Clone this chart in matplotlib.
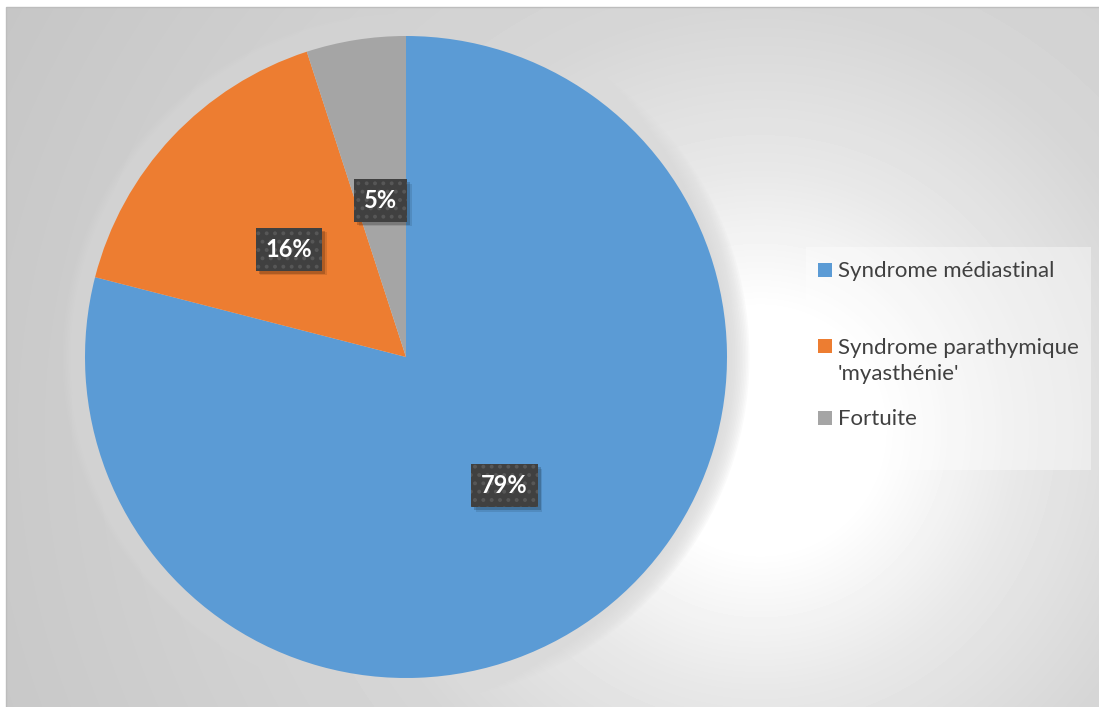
import numpy as np
import matplotlib.pyplot as plt
from matplotlib.patches import Rectangle, Circle
from matplotlib.transforms import IdentityTransform

W, H = 1099, 707

categories = ["Syndrome médiastinal", "Syndrome parathymique\n'myasthénie'", "Fortuite"]
shares = [79, 16, 5]
colors = ["#5B9BD5", "#ED7D31", "#A5A5A5"]

plt.rcParams['font.family'] = ['Lato', 'DejaVu Sans']
plt.rcParams['hatch.linewidth'] = 1.6

fig = plt.figure(figsize=(W / 100, H / 100), dpi=100)

# radial grey background of the chart area
bg = fig.add_axes([6 / W, 0, 1 - 6 / W, 1 - 7 / H])
yy, xx = np.mgrid[7:H, 6:W]
dist = np.hypot(xx - 760, yy - 430)
shade = np.interp(dist, [0, 120, 260, 420, 900], [1.0, 1.0, 0.91, 0.84, 0.77])
bg.imshow(shade, cmap="gray", vmin=0, vmax=1, extent=[6, W, H, 7],
          aspect="auto", interpolation="bilinear")
bg.set_xlim(6, W)
bg.set_ylim(H, 7)
bg.axis("off")
fig.patches.append(Rectangle((6 / W, -0.01), 1, 1 - 7 / H + 0.01,
                             transform=fig.transFigure, fill=False,
                             ec="#bdbdbd", lw=1))

# pie
ax = fig.add_axes([85 / W, (H - 357 - 321) / H, 642 / W, 642 / H])
for k in range(1, 15):
    ax.add_patch(Circle((0, 0), 1 + k * 0.005, fc="#dadada", alpha=0.12,
                        lw=0, zorder=0, clip_on=False))

wedges, texts, autotexts = ax.pie(
    shares, colors=colors, startangle=90, counterclock=False,
    autopct=lambda p: f"{p:.0f}%", pctdistance=0.5,
    wedgeprops=dict(linewidth=0),
)
ax.set_xlim(-1, 1)
ax.set_ylim(-1, 1)
ax.axis("off")

for t in autotexts:
    t.set_color("white")
    t.set_fontsize(17)
    t.set_fontweight("bold")
    t.set_va("center_baseline")
    t.set_zorder(5)
    t.set_bbox(dict(boxstyle="square,pad=0.42", fc="#404040", ec="#575757",
                    lw=0, hatch=".."))

# soft drop shadow behind each label box, placed from the drawn box extents
fig.canvas.draw()
for t in autotexts:
    box = t.get_bbox_patch().get_window_extent()
    for off, a in [(3, 0.18), (4.5, 0.1)]:
        ax.add_patch(Rectangle((box.x0 + off, box.y0 - off), box.width, box.height,
                               transform=IdentityTransform(), fc="black",
                               alpha=a, lw=0, zorder=4, clip_on=False))

# legend
fig.patches.append(Rectangle((806 / W, 1 - 470 / H), 285 / W, 223 / H,
                             transform=fig.transFigure, fc="white",
                             alpha=0.4, lw=0))
first_baselines = [277, 353, 425]
line_step = 27
for label, color, base in zip(categories, colors, first_baselines):
    fig.patches.append(Rectangle((818 / W, 1 - base / H), 14 / W, 14 / H,
                                 transform=fig.transFigure, fc=color, lw=0))
    last = base + line_step * label.count("\n")
    fig.text(838 / W, 1 - last / H, label, fontsize=16, color="#404040",
             va="baseline", ha="left", linespacing=1.38)

fig.savefig("out.png", dpi=100)
